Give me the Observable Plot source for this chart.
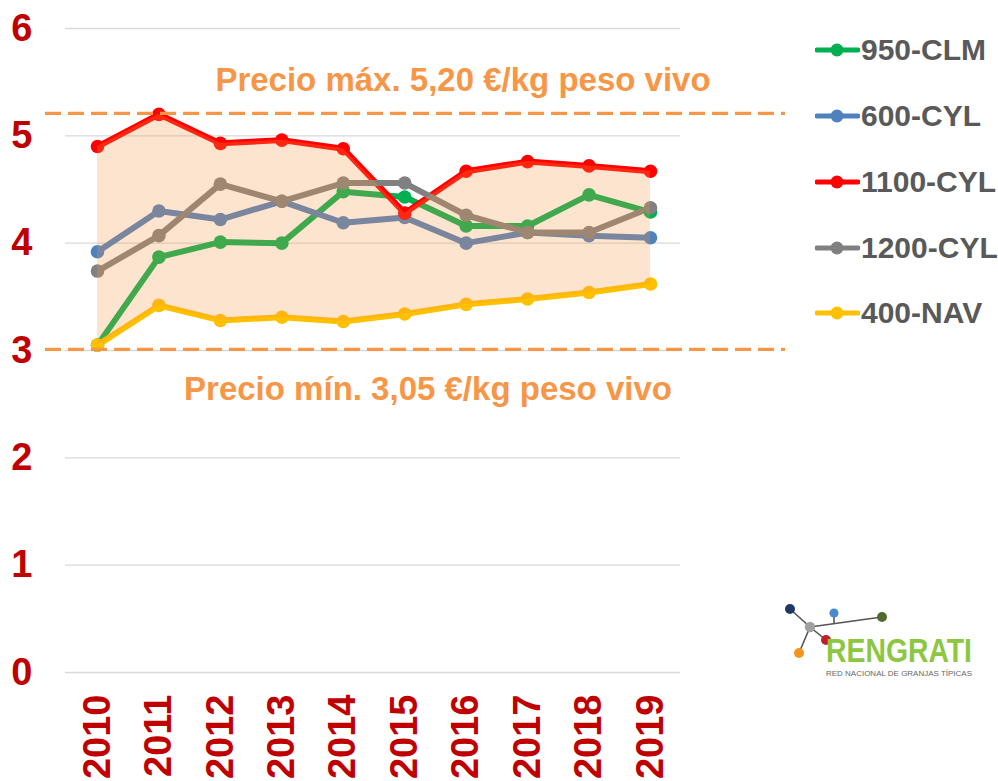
<!DOCTYPE html>
<html>
<head>
<meta charset="utf-8">
<script src="https://cdn.jsdelivr.net/npm/d3@7"></script>
<script src="https://cdn.jsdelivr.net/npm/@observablehq/plot@0.6"></script>
<style>
  html, body { margin: 0; padding: 0; background: #fff; }
  #wrap { position: relative; width: 998px; height: 781px; font-family: "Liberation Sans", Arial, sans-serif; }
  #legend { position: absolute; left: 815px; top: 0; }
  .lg-row { position: absolute; left: 0; display: flex; align-items: center; white-space: nowrap;
            font-weight: bold; font-size: 30px; color: #595959; transform: translateY(-50%); }
  #logo { position: absolute; left: 0; top: 0; }
</style>
</head>
<body>
<div id="wrap"></div>
<script>
// ---- data ----
const years = [2010, 2011, 2012, 2013, 2014, 2015, 2016, 2017, 2018, 2019];
const seriesNames = ["950-CLM", "600-CYL", "1100-CYL", "1200-CYL", "400-NAV"];
const seriesColors = ["#00B050", "#4F81BD", "#FF0000", "#808080", "#FFC000"];
const clm950  = [3.05, 3.87, 4.01, 4.00, 4.48, 4.43, 4.16, 4.16, 4.45, 4.29];
const cyl600  = [3.92, 4.30, 4.22, 4.39, 4.19, 4.24, 4.00, 4.10, 4.07, 4.05];
const cyl1100 = [4.90, 5.20, 4.93, 4.96, 4.88, 4.28, 4.67, 4.76, 4.72, 4.67];
const cyl1200 = [3.74, 4.07, 4.55, 4.39, 4.56, 4.56, 4.26, 4.10, 4.10, 4.33];
const nav400  = [3.05, 3.42, 3.28, 3.31, 3.27, 3.34, 3.43, 3.48, 3.54, 3.62];
const yTicks = [0, 1, 2, 3, 4, 5, 6];
const maxPrice = 5.21;
const minPrice = 3.01;
const maxLabel = "Precio máx. 5,20 €/kg peso vivo";
const minLabel = "Precio mín. 3,05 €/kg peso vivo";

// ---- tidy table ----
const allSeries = [clm950, cyl600, cyl1100, cyl1200, nav400];
const rows = [];
allSeries.forEach((vals, si) => vals.forEach((v, i) => rows.push({year: years[i], value: v, series: seriesNames[si]})));
// shaded band between the 400-NAV (lowest) and 1100-CYL (highest) series
const band = years.map((yr, i) => ({year: yr, lo: nav400[i], hi: cyl1100[i]}));

const font = '"Liberation Sans", Arial, sans-serif';
const orange = "#F79646";

const chart = Plot.plot({
  width: 998,
  height: 781,
  marginTop: 28,
  marginBottom: 109,
  marginLeft: 65,
  marginRight: 318,
  style: {fontFamily: font, background: "transparent", overflow: "visible"},
  x: {domain: [2010, 2019], insetLeft: 32, insetRight: 30},
  y: {domain: [0, 6]},
  color: {domain: seriesNames, range: seriesColors},
  marks: [
    Plot.gridY(yTicks, {stroke: "#D9D9D9", strokeOpacity: 1, strokeWidth: 1.3}),
    Plot.axisY(yTicks, {tickSize: 0, tickPadding: 33, fontSize: 38, fontWeight: "bold", fill: "#C00000", label: null, tickFormat: d => String(d)}),
    Plot.axisX(years, {tickSize: 0, tickPadding: 22, tickRotate: -90, fontSize: 38, fontWeight: "bold", fill: "#C00000", label: null, tickFormat: d => String(d)}),
    ...seriesNames.map(name => Plot.line(rows.filter(r => r.series === name), {
      x: "year", y: "value", stroke: "series", strokeWidth: 6, strokeLinejoin: "round", strokeLinecap: "round"
    })),
    ...seriesNames.map(name => Plot.dot(rows.filter(r => r.series === name), {
      x: "year", y: "value", fill: "series", r: 6.8, stroke: "none"
    })),
    Plot.areaY(band, {x: "year", y1: "lo", y2: "hi", fill: orange, fillOpacity: 0.26}),
    Plot.ruleY([maxPrice, minPrice], {stroke: orange, strokeWidth: 3.2, strokeDasharray: "16,7", insetLeft: -20, insetRight: -105}),
    Plot.text([maxLabel], {text: d => d, frameAnchor: "middle", y: () => maxPrice, dx: 90, dy: -33, fill: orange, fontSize: 33, fontWeight: "bold"}),
    Plot.text([minLabel], {text: d => d, frameAnchor: "middle", y: () => minPrice, dx: 55, dy: 40, fill: orange, fontSize: 33, fontWeight: "bold"})
  ]
});

const wrap = document.getElementById("wrap");
wrap.appendChild(chart);

// ---- legend ----
const legend = document.createElement("div");
legend.id = "legend";
const rowY = [50, 116, 182, 248, 313];
seriesNames.forEach((name, i) => {
  const row = document.createElement("div");
  row.className = "lg-row";
  row.style.top = rowY[i] + "px";
  row.innerHTML = `<svg width="45" height="16" style="margin-right:1px"><line x1="2" y1="8" x2="43" y2="8" stroke="${seriesColors[i]}" stroke-width="5" stroke-linecap="round"/><circle cx="22" cy="8" r="6.5" fill="${seriesColors[i]}"/></svg><span>${name}</span>`;
  legend.appendChild(row);
});
wrap.appendChild(legend);

// ---- logo ----
const logo = document.createElement("div");
logo.id = "logo";
logo.innerHTML = `<svg width="998" height="781" style="position:absolute;left:0;top:0;pointer-events:none">
  <g stroke="#555" stroke-width="1.6">
    <line x1="790" y1="609" x2="810" y2="627"/>
    <line x1="810" y1="627" x2="799" y2="653"/>
    <line x1="810" y1="627" x2="882" y2="617"/>
    <line x1="810" y1="627" x2="826" y2="640"/>
    <line x1="834" y1="613" x2="834" y2="623"/>
  </g>
  <circle cx="790" cy="609" r="5" fill="#1F3864"/>
  <circle cx="834" cy="613" r="4.6" fill="#4A8CCB"/>
  <circle cx="882" cy="617" r="5" fill="#4F6B2E"/>
  <circle cx="810" cy="627" r="5.2" fill="#A0A0A0"/>
  <circle cx="826" cy="640" r="5" fill="#C0202A"/>
  <circle cx="799" cy="653" r="5" fill="#F7941D"/>
  <text x="826" y="662" font-family='"Liberation Sans Narrow", "Liberation Sans", Arial, sans-serif' font-weight="bold" font-size="33" fill="#8DC63F" textLength="146" lengthAdjust="spacingAndGlyphs">RENGRATI</text>
  <text x="826" y="676" font-family='"Liberation Sans", Arial, sans-serif' font-size="8" fill="#666" textLength="146" lengthAdjust="spacingAndGlyphs">RED NACIONAL DE GRANJAS TÍPICAS</text>
</svg>`;
wrap.appendChild(logo);
</script>
</body>
</html>
